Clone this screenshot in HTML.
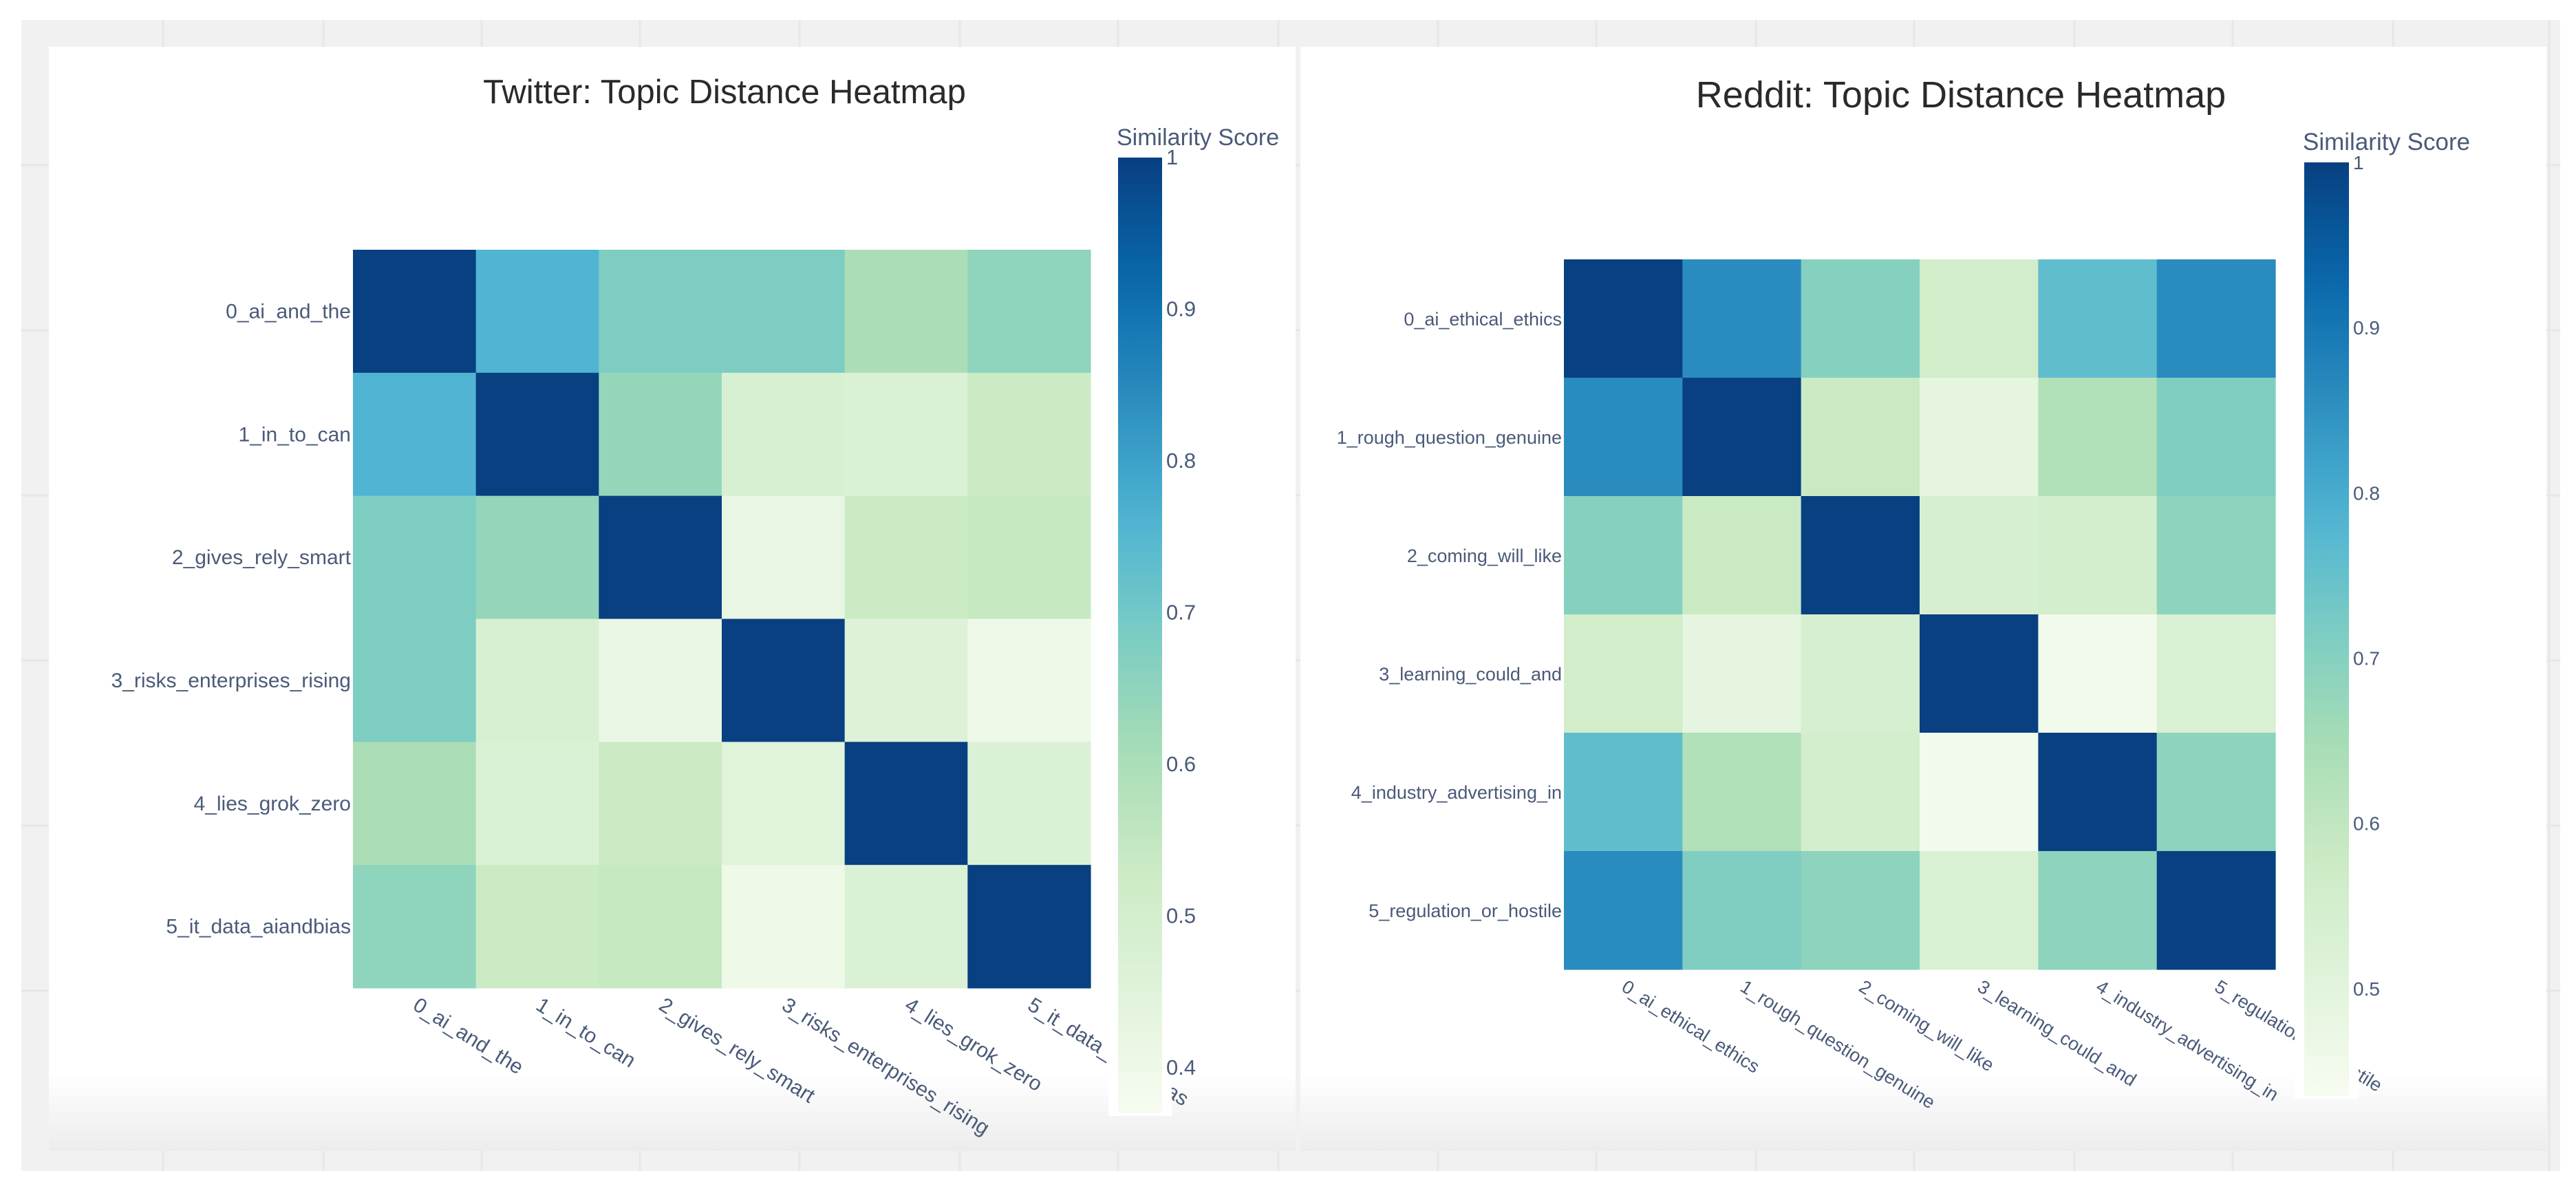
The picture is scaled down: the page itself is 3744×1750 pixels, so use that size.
<!DOCTYPE html>
<html><head><meta charset="utf-8">
<style>
html,body{margin:0;padding:0;background:#fff;}
svg{display:block;font-family:"Liberation Sans","DejaVu Sans",sans-serif;}
</style></head>
<body>
<svg id="root" width="3744" height="1750" viewBox="0 0 3744 1750" xmlns="http://www.w3.org/2000/svg">
<defs>
<linearGradient id="fadeL" x1="0" y1="0" x2="0" y2="1">
<stop offset="0" stop-color="#ffffff"/><stop offset="1" stop-color="#ececec"/>
</linearGradient>
</defs>
<rect x="31" y="29" width="3690" height="1673" fill="#f1f1f1"/>
<g id="grid"></g>
<rect x="71" y="68" width="1812" height="1605" fill="#ffffff"/>
<rect x="1890" y="68" width="1811" height="1605" fill="#ffffff"/>
<rect x="71" y="1560" width="1812" height="113" fill="url(#fadeL)"/>
<rect x="1890" y="1560" width="1811" height="113" fill="url(#fadeL)"/>
<g id="charts"></g>
</svg>
<script>
// ---- Twitter data ----
const twitterTopics = ["0_ai_and_the","1_in_to_can","2_gives_rely_smart","3_risks_enterprises_rising","4_lies_grok_zero","5_it_data_aiandbias"];
const twitterRow0 = [1.00, 0.76, 0.68, 0.68, 0.60, 0.65];
const twitterRow1 = [0.76, 1.00, 0.64, 0.48, 0.47, 0.53];
const twitterRow2 = [0.68, 0.64, 1.00, 0.42, 0.53, 0.54];
const twitterRow3 = [0.68, 0.48, 0.41, 1.00, 0.46, 0.40];
const twitterRow4 = [0.60, 0.47, 0.53, 0.45, 1.00, 0.47];
const twitterRow5 = [0.65, 0.53, 0.54, 0.40, 0.47, 1.00];
const twitterTicks = [0.4, 0.5, 0.6, 0.7, 0.8, 0.9, 1];
const twitterRange = [0.37, 1.0];
// ---- Reddit data ----
const redditTopics = ["0_ai_ethical_ethics","1_rough_question_genuine","2_coming_will_like","3_learning_could_and","4_industry_advertising_in","5_regulation_or_hostile"];
const redditRow0 = [1.00, 0.86, 0.70, 0.56, 0.76, 0.86];
const redditRow1 = [0.86, 1.00, 0.58, 0.49, 0.63, 0.71];
const redditRow2 = [0.70, 0.58, 1.00, 0.54, 0.55, 0.69];
const redditRow3 = [0.56, 0.49, 0.54, 1.00, 0.45, 0.53];
const redditRow4 = [0.76, 0.63, 0.55, 0.45, 1.00, 0.69];
const redditRow5 = [0.86, 0.71, 0.69, 0.53, 0.69, 1.00];
const redditTicks = [0.5, 0.6, 0.7, 0.8, 0.9, 1];
const redditRange = [0.435, 1.0];

const GnBu = [[0,[247,252,240]],[0.125,[224,243,219]],[0.25,[204,235,197]],[0.375,[168,221,181]],[0.5,[123,204,196]],[0.625,[78,179,211]],[0.75,[43,140,190]],[0.875,[8,104,172]],[1,[8,64,129]]];
function colorAt(t){
  t=Math.max(0,Math.min(1,t));
  for(let i=1;i<GnBu.length;i++){
    if(t<=GnBu[i][0]){
      const a=GnBu[i-1],b=GnBu[i],f=(t-a[0])/(b[0]-a[0]);
      const c=a[1].map((v,k)=>Math.round(v+(b[1][k]-v)*f));
      return `rgb(${c[0]},${c[1]},${c[2]})`;
    }
  }
  return 'rgb(8,64,129)';
}
const NS="http://www.w3.org/2000/svg";
function mk(tag,attrs,parent){const e=document.createElementNS(NS,tag);for(const k in attrs)e.setAttribute(k,attrs[k]);parent.appendChild(e);return e;}

const grid=document.getElementById('grid');
[237,470,700,930,1162,1395,1625,1858,2090,2320,2552,2782,3015,3245,3478,3705].forEach(x=>{
  const l=mk('line',{x1:x,y1:29,x2:x,y2:1702,stroke:'#e7e7e7','stroke-width':3},grid);
  
  
});
[240,480,720,960,1200,1440].forEach(y=>{
  const l=mk('line',{x1:31,y1:y,x2:3721,y2:y,stroke:'#e6e6e6','stroke-width':3},grid);
  
  
});

function drawHeatmap(cfg){
  const root=document.getElementById('charts');
  const g=mk('g',{},root);
  
  
  const n=cfg.topics.length;
  const cw=(cfg.x1-cfg.x0)/n, ch=(cfg.y1-cfg.y0)/n;
  const xScale=i=>cfg.x0+i*cw, yScale=i=>cfg.y0+i*ch;
  const norm=v=>(v-cfg.range[0])/(cfg.range[1]-cfg.range[0]);
  const t=mk('text',{x:cfg.titleX,y:cfg.titleY,'font-size':cfg.titleSize,fill:'#2a2a2a','text-anchor':'middle'},g);
  t.textContent=cfg.title;
  
  
  cfg.rows.forEach((row,r)=>{
    row.forEach((v,c)=>{
      const rc=mk('rect',{x:xScale(c),y:yScale(r),width:cw+0.6,height:ch+0.6,fill:colorAt(norm(v))},g);
      
      
    });
  });
  cfg.topics.forEach((lab,i)=>{
    const tx=mk('text',{x:cfg.x0-3,y:yScale(i)+ch/2+10,'font-size':cfg.labSize,fill:'#4a5a78','text-anchor':'end'},g);
    tx.textContent=lab;
    
    
  });
  cfg.topics.forEach((lab,i)=>{
    const cx=xScale(i)+cw/2-4, cy=cfg.y1+30;
    const tx=mk('text',{x:cx,y:cy,'font-size':cfg.labSize,fill:'#4a5a78','text-anchor':'start',transform:`rotate(32 ${cx} ${cy})`},g);
    tx.textContent=lab;
    
    
  });
  const cb=mk('g',{},g);
  
  
  mk('rect',{x:cfg.cbx-14,y:cfg.cby0-4,width:cfg.cbw+28,height:cfg.cby1-cfg.cby0+8,fill:'#ffffff'},cb);
  const gid=cfg.name+'-grad';
  const lg=mk('linearGradient',{id:gid,x1:0,y1:1,x2:0,y2:0},mk('defs',{},cb));
  for(let k=0;k<=20;k++){mk('stop',{offset:k/20,'stop-color':colorAt(k/20)},lg);}
  const bar=mk('rect',{x:cfg.cbx,y:cfg.cby0,width:cfg.cbw,height:cfg.cby1-cfg.cby0,fill:`url(#${gid})`},cb);
  
  
  const cbScale=v=>cfg.cby1-(v-cfg.range[0])/(cfg.range[1]-cfg.range[0])*(cfg.cby1-cfg.cby0);
  cfg.ticks.forEach(v=>{
    const tx=mk('text',{x:cfg.cbx+cfg.cbw+6,y:cbScale(v)+10,'font-size':cfg.labSize+1,fill:'#4a5a78'},cb);
    tx.textContent=String(v);
    
    
  });
  const ct=mk('text',{x:cfg.cbx-2,y:cfg.cby0-18,'font-size':cfg.cbTitleSize,fill:'#4a5a78'},cb);
  ct.textContent='Similarity Score';
  
  
}

drawHeatmap({name:'twitter-heatmap',title:'Twitter: Topic Distance Heatmap',titleX:1053,titleY:150,titleSize:49,labSize:30,cbTitleSize:34,
  topics:twitterTopics,rows:[twitterRow0,twitterRow1,twitterRow2,twitterRow3,twitterRow4,twitterRow5],
  range:twitterRange,ticks:twitterTicks,x0:513,x1:1585,y0:363,y1:1436,
  cbx:1625,cbw:64,cby0:229,cby1:1618});
drawHeatmap({name:'reddit-heatmap',title:'Reddit: Topic Distance Heatmap',titleX:2850,titleY:156,titleSize:54,labSize:27,cbTitleSize:35,
  topics:redditTopics,rows:[redditRow0,redditRow1,redditRow2,redditRow3,redditRow4,redditRow5],
  range:redditRange,ticks:redditTicks,x0:2273,x1:3307,y0:377,y1:1409,
  cbx:3349,cbw:65,cby0:236,cby1:1593});
</script>
</body></html>
